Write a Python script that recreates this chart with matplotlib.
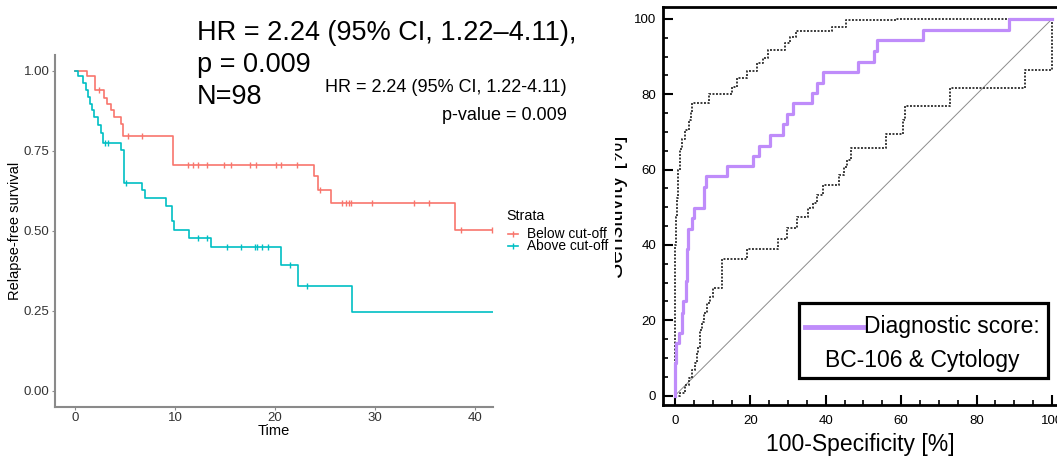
import numpy as np
import matplotlib
matplotlib.use("Agg")
import matplotlib.pyplot as plt
from matplotlib.lines import Line2D
from matplotlib.patches import Rectangle
from matplotlib.ticker import MultipleLocator
from matplotlib.transforms import Bbox, TransformedBbox

plt.rcParams['font.family'] = ['Liberation Sans', 'DejaVu Sans']

# ---- Kaplan-Meier data ----
below_time = [0, 1.2, 2.0, 2.9, 3.2, 3.6, 3.9, 4.6, 4.75, 9.8, 23.9, 24.3, 25.6, 38.0]
below_surv = [1.0, 0.983, 0.942, 0.914, 0.898, 0.877, 0.857, 0.834, 0.797, 0.706, 0.67, 0.628, 0.587, 0.504]
below_cens = [2.4, 5.3, 6.7, 11.3, 11.8, 12.3, 13.2, 14.9, 15.6, 17.5, 18.1, 20.1, 20.6, 22.2,
              24.5, 26.7, 27.1, 27.4, 27.6, 29.7, 33.9, 35.4, 38.6, 41.7]

above_time = [0, 0.27, 0.84, 1.1, 1.3, 1.5, 1.7, 1.9, 2.3, 2.6, 2.8, 4.6, 4.9, 6.7, 7.0, 9.1,
              9.7, 9.9, 11.4, 13.6, 20.6, 22.3, 27.7]
above_surv = [1.0, 0.983, 0.961, 0.94, 0.919, 0.898, 0.877, 0.857, 0.831, 0.805, 0.774, 0.753,
              0.651, 0.628, 0.602, 0.578, 0.53, 0.502, 0.477, 0.45, 0.394, 0.329, 0.247]
above_cens = [3.0, 3.3, 5.05, 12.3, 13.2, 15.2, 16.6, 18.0, 18.2, 18.7, 19.3, 21.5, 23.2]

end_time = 42

# ---- ROC data (percent) ----
score_fpr = [0, 0, 0.4, 1.1, 1.8, 2.2, 2.9, 3.2, 3.5, 4.6, 5.0, 7.7, 8.2, 13.7, 20.8, 22.4, 25.2,
             28.7, 29.8, 31.4, 36.4, 37.6, 39.2, 48.6, 52.8, 53.7, 65.9, 88.7, 100]
score_tpr = [0, 8.6, 13.9, 16.6, 21.9, 25.0, 30.3, 39.0, 44.2, 47.1, 49.9, 55.5, 58.3, 61.0, 63.5,
             66.3, 69.2, 72.0, 74.8, 77.6, 80.4, 83.1, 86.0, 88.7, 91.6, 94.4, 97.1, 100, 100]

upper_fpr = [0, 0, 0.3, 0.6, 0.9, 1.3, 1.8, 2.7, 3.8, 4.2, 4.6, 9.0, 15.2, 16.4, 19.0, 21.8, 23.4,
             24.8, 29.2, 30.5, 32.1, 41.6, 45.4, 58.6, 100]
upper_tpr = [0, 40, 47.5, 52.4, 60.0, 65.4, 68.0, 70.5, 73.2, 75.4, 77.8, 80.0, 82.0, 84.3, 86.3,
             88.2, 89.6, 91.8, 93.5, 95.3, 96.8, 98.0, 99.6, 100, 100]

lower_fpr = [0, 1.3, 2.65, 3.8, 4.4, 5.3, 5.75, 6.2, 6.6, 7.1, 7.7, 8.4, 9.3, 10.2, 12.4, 19.0,
             27.2, 29.6, 32.3, 35.4, 36.7, 37.6, 39.2, 43.6, 44.8, 45.5, 46.6, 56.0, 60.4, 61.0,
             72.9, 92.8, 100]
lower_tpr = [0, 0.6, 2.8, 4.6, 6.8, 8.6, 11.2, 13.0, 17.4, 19.6, 21.9, 24.5, 26.3, 28.5, 36.2, 38.9,
             41.5, 44.4, 47.5, 49.7, 51.1, 53.3, 55.9, 58.6, 60.8, 62.6, 65.8, 69.4, 73.2, 76.9,
             81.6, 86.5, 100]

W, H = 1057, 457
def fx(px):
    return px / W
def fy(py):
    return 1 - py / H

red = "#F8766D"
cyan = "#00BFC4"
purple = "#BF8CFA"

fig = plt.figure(figsize=(W / 100, H / 100), dpi=100)

# ================= left: Kaplan-Meier =================
ax1 = fig.add_axes([fx(55), fy(406.7), (493 - 55) / W, (406.7 - 55) / H])
ax1.set_xlim(-2, 41.8)
ax1.set_ylim(-0.05, 1.05)


def km_plot(ax, t, s, cens, color):
    ax.step(list(t) + [end_time], list(s) + [s[-1]], where="post", color=color, lw=1.2)
    idx = np.searchsorted(t, cens, side="right") - 1
    ax.plot(cens, np.array(s)[idx], ls="none", marker="|", ms=5, mew=1, color=color)


km_plot(ax1, below_time, below_surv, below_cens, red)
km_plot(ax1, above_time, above_surv, above_cens, cyan)

for side in ["top", "right"]:
    ax1.spines[side].set_visible(False)
for side in ["left", "bottom"]:
    ax1.spines[side].set_color("#8a8a8a")
    ax1.spines[side].set_linewidth(1.5)
ax1.set_xticks([0, 10, 20, 30, 40])
ax1.set_yticks([0, 0.25, 0.5, 0.75, 1.0])
ax1.set_yticklabels(["0.00", "0.25", "0.50", "0.75", "1.00"])
ax1.tick_params(colors="#8a8a8a", labelcolor="#333333", labelsize=9.5, length=2.5, width=0.8, pad=1.5)

fig.text(fx(274), fy(431), "Time", ha="center", va="center", fontsize=10.5)
fig.text(fx(15), fy(231), "Relapse-free survival", rotation=90, ha="center", va="center", fontsize=10.5)

# legend (Strata)
fig.text(fx(506), fy(216), "Strata", ha="left", va="center", fontsize=10.3)
for lab, col, yy in [("Below cut-off", red, 234), ("Above cut-off", cyan, 246)]:
    fig.add_artist(Line2D([fx(508), fx(518)], [fy(yy), fy(yy)], color=col, lw=1.2,
                          transform=fig.transFigure))
    fig.add_artist(Line2D([fx(513)], [fy(yy)], color=col, marker="|", ms=5, mew=1,
                          transform=fig.transFigure))
    fig.text(fx(527), fy(yy), lab, ha="left", va="center", fontsize=9.9)

# annotations
fig.text(fx(197), fy(33), "HR = 2.24 (95% CI, 1.22\u20134.11),", ha="left", va="center", fontsize=19.5)
fig.text(fx(197), fy(65), "p = 0.009", ha="left", va="center", fontsize=19.5)
fig.text(fx(197), fy(97), "N=98", ha="left", va="center", fontsize=19.5)
fig.text(fx(567), fy(87), "HR = 2.24 (95% CI, 1.22-4.11)", ha="right", va="center", fontsize=13)
fig.text(fx(567), fy(116), "p-value = 0.009", ha="right", va="center", fontsize=13)

# ================= right: ROC =================
ax2 = fig.add_axes([fx(663.3), fy(405), 400 / W, (405 - 7.3) / H])
ax2.set_xlim(-3.1, 103)
ax2.set_ylim(-2.5, 103.1)

ax2.plot([0, 100], [0, 100], color="#8c8c8c", lw=0.7)
ax2.step(upper_fpr, upper_tpr, where="post", color="#3a3a3a", lw=1.4, ls=(0, (1, 0.8)))
ax2.step(lower_fpr, lower_tpr, where="post", color="#3a3a3a", lw=1.4, ls=(0, (1, 0.8)))
ax2.step(score_fpr, score_tpr, where="post", color=purple, lw=2.3)

ax2.spines["right"].set_visible(False)
for side in ["left", "bottom", "top"]:
    ax2.spines[side].set_linewidth(2)
    ax2.spines[side].set_color("black")
ax2.set_xticks(range(0, 101, 20))
ax2.set_yticks(range(0, 101, 20))
ax2.xaxis.set_minor_locator(MultipleLocator(5))
ax2.yaxis.set_minor_locator(MultipleLocator(5))
ax2.tick_params(which="major", direction="in", length=7, width=1.5, labelsize=9.5, pad=5)
ax2.tick_params(which="minor", direction="in", length=3.5, width=1.2)
ax2.tick_params(axis="x", pad=7)

fig.text(fx(860), fy(445), "100-Specificity [%]", ha="center", va="center", fontsize=16.5)
ylab = fig.text(fx(617), fy(207), "Sensitivity [%]", rotation=90, ha="center", va="center",
                fontsize=16.5)
ylab.set_clip_box(TransformedBbox(Bbox([[fx(614.5), 0], [1, 1]]), fig.transFigure))
ylab.set_clip_on(True)

# legend box
fig.add_artist(Rectangle((fx(798.5), fy(378.3)), (1048.3 - 798.5) / W, (378.3 - 302.7) / H,
                         transform=fig.transFigure, fill=False, lw=2.3, ec="black"))
fig.add_artist(Line2D([fx(805), fx(863)], [fy(327), fy(327)], color=purple, lw=3.5,
                      transform=fig.transFigure))
fig.text(fx(864), fy(327), "Diagnostic score:", ha="left", va="center", fontsize=16.5)
fig.text(fx(825), fy(360), "BC-106 & Cytology", ha="left", va="center", fontsize=16.5)

fig.savefig("out.png", dpi=100)
